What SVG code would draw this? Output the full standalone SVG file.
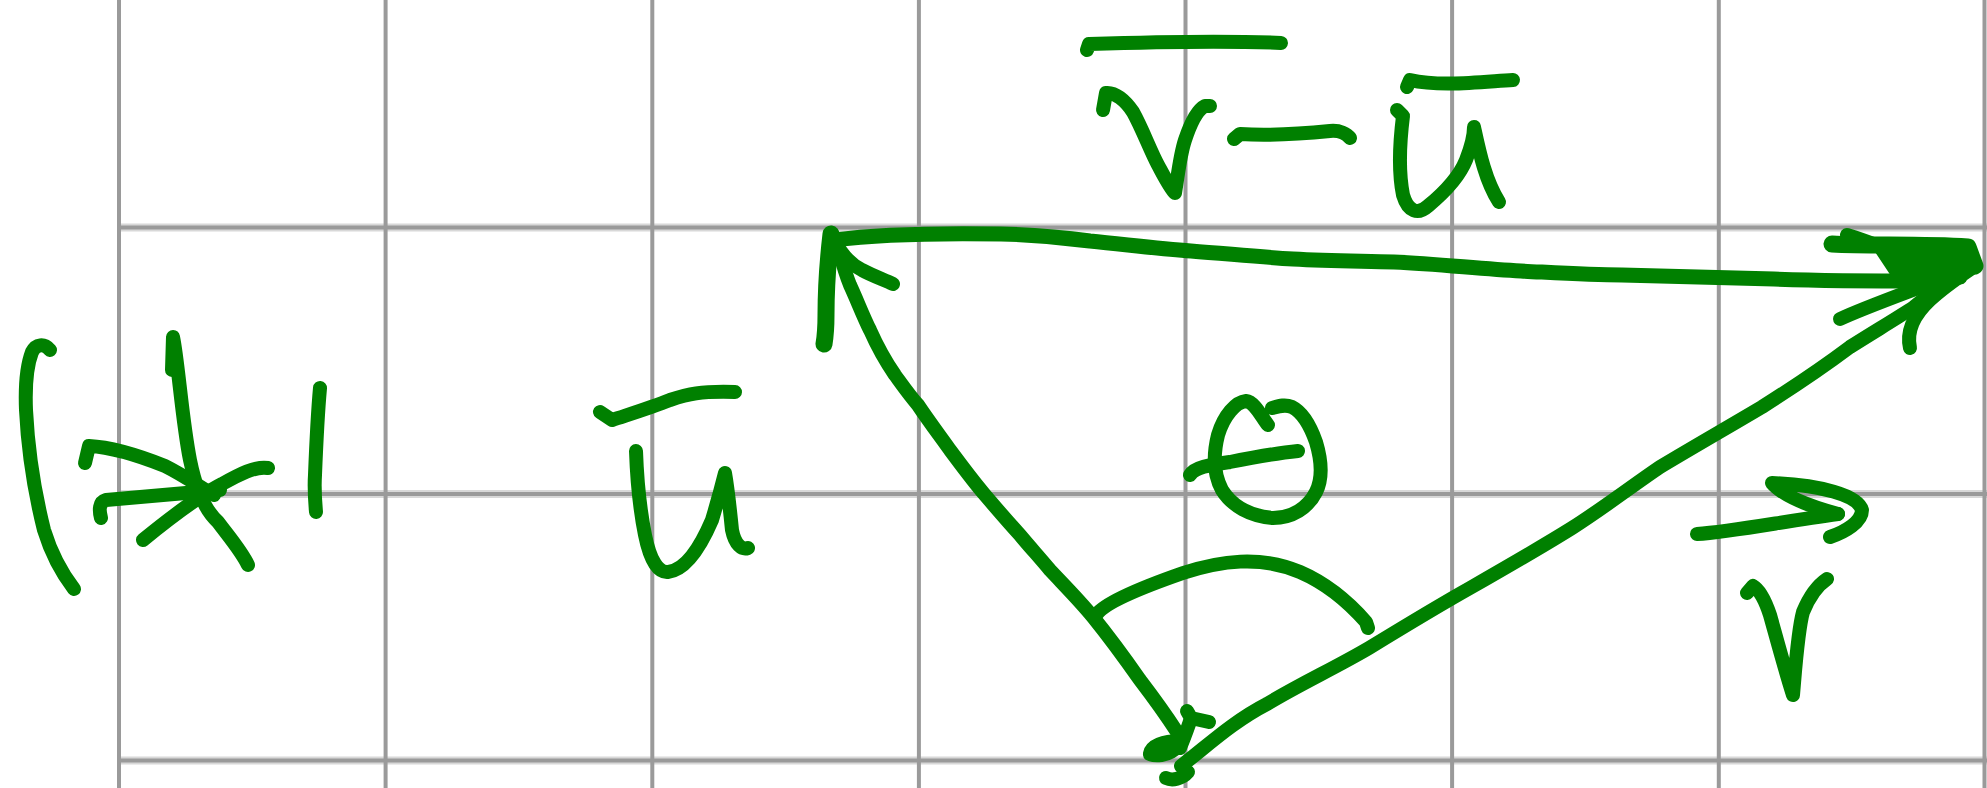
<svg xmlns="http://www.w3.org/2000/svg" width="1987" height="788" viewBox="0 0 1987 788">
<style>
.bg{fill:#ffffff}
.gv{stroke:#9a9a9a;stroke-width:4}
.gh{stroke:#9a9a9a;stroke-width:4}
.gh2{stroke:#d8d8d8;stroke-width:8}
.ink{fill:none;stroke:#008000;stroke-width:14;stroke-linecap:round;stroke-linejoin:round}
.thick{stroke-width:17}
.edge{stroke-width:15}
.blob{fill:#008000;stroke:#008000;stroke-width:6;stroke-linejoin:round}
</style>
<rect class="bg" x="0" y="0" width="1987" height="788"/>
<g id="grid">
  <line class="gh2" x1="119" y1="227.5" x2="1987" y2="227.5"/>
  <line class="gh2" x1="119" y1="494" x2="1987" y2="494"/>
  <line class="gh2" x1="119" y1="760.5" x2="1987" y2="760.5"/>
  <line class="gh" x1="119" y1="227.5" x2="1987" y2="227.5"/>
  <line class="gh" x1="119" y1="494" x2="1987" y2="494"/>
  <line class="gh" x1="119" y1="760.5" x2="1987" y2="760.5"/>
  <line class="gv" x1="119" y1="0" x2="119" y2="788"/>
  <line class="gv" x1="385.6" y1="0" x2="385.6" y2="788"/>
  <line class="gv" x1="652.3" y1="0" x2="652.3" y2="788"/>
  <line class="gv" x1="918.9" y1="0" x2="918.9" y2="788"/>
  <line class="gv" x1="1185.5" y1="0" x2="1185.5" y2="788"/>
  <line class="gv" x1="1452.1" y1="0" x2="1452.1" y2="788"/>
  <line class="gv" x1="1718.8" y1="0" x2="1718.8" y2="788"/>
  <line class="gv" x1="1984.5" y1="0" x2="1984.5" y2="788"/>
</g>
<g id="connectors">
  <path id="edge-top" class="ink edge" d="M834,240 C880,234 940,233 1001,234 C1040,235 1060,237 1090,241 C1130,245 1160,249 1191,251 C1230,254 1260,257 1293,259 C1330,261 1360,261 1394,262 C1440,264 1480,269 1521,271 C1560,273 1590,275 1622,275 C1680,277 1730,278 1774,279 C1830,281 1880,281 1926,281 L1960,277"/>
  <path id="edge-left" class="ink" d="M838,247 C842,262 846,275 850,285 C857,300 863,316 870,330 C878,348 886,362 895,375 C903,386 910,396 918,405 C928,420 940,436 950,450 C962,466 973,481 985,495 C997,509 1008,522 1020,535 C1030,547 1040,558 1050,570 C1065,586 1080,601 1093,617 C1110,638 1126,660 1140,680 C1153,697 1166,715 1177,732"/>
  <path id="edge-right" class="ink" d="M1181,766 C1205,748 1232,722 1267,704 C1300,684 1335,668 1369,648 C1405,626 1438,606 1470,588 C1505,568 1540,548 1572,528 C1602,509 1632,486 1660,467 C1695,446 1730,426 1762,407 C1792,388 1822,368 1850,347 C1872,333 1894,320 1914,307 C1930,294 1945,282 1958,273 L1972,266"/>
  <path id="head-topleft-a" class="ink thick" d="M831,234 C828,260 826,290 826,315 C826,328 825,338 824,344"/>
  <path id="head-topleft-b" class="ink" d="M834,240 C840,252 850,264 862,270 C873,276 885,280 893,284"/>
  <path id="head-topright-fill" class="blob" d="M1872,242 L1968,243 L1978,264 L1958,282 L1925,290 L1900,284 Z"/>
  <path id="head-topright-a" class="ink thick" d="M1832,244 C1870,246 1920,244 1968,247 L1975,266"/>
  <path id="head-topright-b" class="ink" d="M1847,235 C1870,242 1900,254 1935,270"/>
  <path id="head-topright-c" class="ink" d="M1840,319 C1870,305 1915,290 1975,266"/>
  <path id="head-topright-d" class="ink" d="M1910,348 C1906,330 1915,314 1930,300 C1945,286 1962,275 1975,266"/>
  <path id="head-bottom-a" class="blob" d="M1146,753 C1148,742 1163,737 1180,737 C1188,744 1178,756 1162,759 C1151,760 1145,758 1146,753 Z"/>
  <path id="head-bottom-b" class="ink" d="M1187,711 L1191,718 L1209,722 M1191,718 C1188,728 1184,738 1180,748"/>
  <path id="head-bottom-c" class="ink" d="M1166,778 C1172,781 1182,779 1188,772"/>
</g>
<g id="angle-arc">
  <path class="ink" d="M1097,614 C1105,603 1140,588 1183,573 C1220,561 1260,555 1300,572 C1330,585 1352,606 1366,622 L1368,628"/>
</g>
<g id="label-theta">
  <path class="ink" d="M1268,425 C1262,418 1255,402 1246,401 C1236,402 1224,415 1218,435 C1213,455 1214,475 1222,490 C1232,506 1250,516 1273,518 C1292,518 1308,508 1316,492 C1323,478 1322,462 1316,442 C1310,425 1302,412 1292,407 C1285,404 1279,406 1272,408"/>
  <path class="ink" d="M1190,475 C1195,467 1210,465 1230,462 C1255,457 1278,453 1298,451"/>
</g>
<g id="label-cross">
  <path class="ink" d="M50,350 C44,343 36,344 32,352 C27,365 25,385 26,410 C28,450 34,490 44,530 C52,556 64,576 74,589"/>
  <path class="ink" d="M172,370 L173,337 C178,360 182,420 190,460 C196,490 205,510 218,522 C230,538 242,552 248,565"/>
  <path class="ink" d="M85,463 L89,446 C110,447 140,456 165,466 C185,476 200,487 214,495"/>
  <path class="ink" d="M101,518 C99,510 99,502 106,500 C140,497 175,494 220,490"/>
  <path class="ink" d="M143,540 C165,522 195,498 222,484 C240,474 255,466 268,468"/>
  <path class="ink" d="M320,388 C318,410 316,450 315,475 C314,490 315,500 316,512"/>
</g>
<g id="label-u">
  <path class="ink" d="M600,412 L612,420 C630,414 650,408 670,400 C688,394 700,391 735,392"/>
  <path class="ink" d="M636,451 C637,480 640,510 645,535 C650,560 658,573 668,572 C685,570 700,548 712,520 C718,500 722,485 725,473 C728,490 730,510 732,530 C735,545 742,550 748,548"/>
</g>
<g id="label-v-minus-u">
  <path class="ink" d="M1087,50 L1089,44 C1150,42 1220,40 1281,43"/>
  <path class="ink" d="M1103,110 L1106,93 C1115,92 1125,100 1133,112 C1142,128 1150,150 1158,165 C1165,178 1170,188 1175,193 C1178,175 1180,155 1185,140 C1190,125 1197,110 1205,106 L1210,106"/>
  <path class="ink" d="M1234,139 L1240,134 C1270,136 1300,134 1330,131 C1340,130 1347,134 1350,138"/>
  <path class="ink" d="M1407,87 L1410,80 C1440,87 1480,82 1513,80"/>
  <path class="ink" d="M1397,110 L1403,116 C1400,140 1398,170 1403,195 C1408,212 1418,215 1428,206 C1445,192 1460,175 1466,160 C1472,145 1474,135 1474,127 C1479,150 1485,180 1499,202"/>
</g>
<g id="label-v">
  <path class="ink" d="M1697,534 C1730,532 1780,522 1838,514"/>
  <path class="ink" d="M1830,537 C1845,532 1862,522 1862,510 C1858,495 1820,485 1772,483 C1782,495 1805,505 1838,514"/>
  <path class="ink" d="M1747,593 L1753,586 C1760,590 1765,600 1770,615 C1777,640 1785,670 1793,695 C1796,660 1798,630 1803,612 C1810,595 1818,585 1827,579"/>
</g>
</svg>
